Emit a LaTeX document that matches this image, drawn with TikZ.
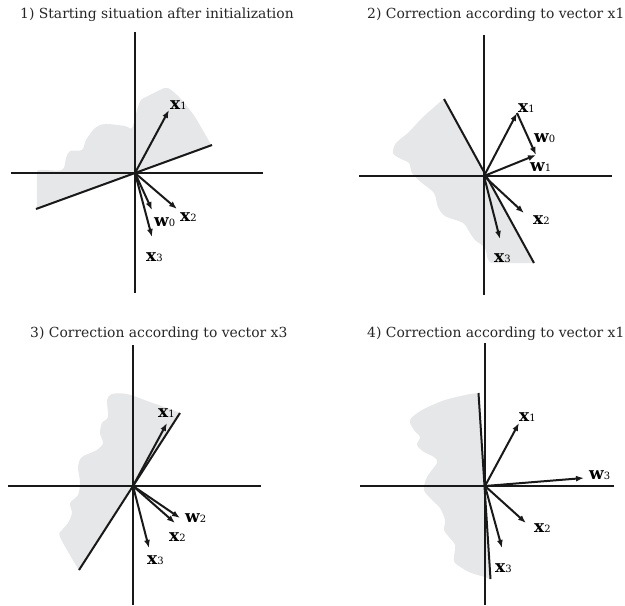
\documentclass[tikz,border=0pt]{standalone}
\usepackage{fontspec}
\setmainfont{DejaVu Serif}
\newfontfamily\labfont{DejaVu Serif}
\usetikzlibrary{arrows.meta}
\definecolor{shadegray}{HTML}{E6E7E8}
\newcommand\vlab[2]{{\labfont\fontsize{17}{17}\selectfont\bfseries #1}{\labfont\fontsize{10}{10}\selectfont #2}}
\tikzset{
  axis/.style={line width=2pt, black!90},
  sepline/.style={line width=2pt, black!90},
  vec/.style={line width=2pt, black!90, -{Latex[length=8pt,width=6pt]}},
  shadearea/.style={fill=shadegray},
  lab/.style={anchor=west, inner sep=0pt},
  ttl/.style={anchor=base west, inner sep=0pt, font=\fontsize{13.9}{13.9}\selectfont, text=black!85}
}
\begin{document}
\begin{tikzpicture}[x=1pt,y=-1pt]
\useasboundingbox (0,0) rectangle (625,606);
% ---------- Panel 1 ----------
\node[ttl] (t1) at (20,18) {1) Starting situation after initialization};
\coordinate (o1) at (135,173);
\coordinate (s1a) at (36,209);
\coordinate (s1b) at (212,145);
\fill[shadearea] (s1a) -- plot[smooth, tension=0.5] coordinates {(37,205) (37,175) (40,170) (62,170) (66,158) (70,151) (82,150) (86,140) (95,128) (105,124) (125,126) (132,128) (137,110) (141,100) (150,95) (160,90) (168,88) (180,98) (195,117) (210,143)} -- (s1b) -- cycle;
\draw[axis] (135,32) coordinate (v1a) -- (135,293) coordinate (v1b);
\draw[axis] (11,173) coordinate (h1a) -- (263,173) coordinate (h1b);
\draw[sepline] (s1a) -- (s1b);
\coordinate (p1x1) at (169,110);
\coordinate (p1x2) at (177,209);
\coordinate (p1w0) at (152,210);
\coordinate (p1x3) at (152,237);
\draw[vec] (o1) -- (p1x1);
\draw[vec] (o1) -- (p1x2);
\draw[vec] (o1) -- (p1w0);
\draw[vec] (o1) -- (p1x3);
\node[lab] (l1x1) at (170,105) {\vlab{x}{1}};
\node[lab] (l1x2) at (180,217) {\vlab{x}{2}};
\node[lab] (l1w0) at (154,222) {\vlab{w}{0}};
\node[lab] (l1x3) at (146,257) {\vlab{x}{3}};
% ---------- Panel 2 ----------
\node[ttl] (t2) at (367,18) {2) Correction according to vector x1};
\coordinate (o2) at (484,176);
\coordinate (s2a) at (444,99);
\coordinate (s2b) at (534,263);
\fill[shadearea] (s2a) -- plot[smooth, tension=0.5] coordinates {(440,102) (422,118) (409,132) (396,143) (393,153) (399,158) (409,163) (412,173) (422,183) (434,193) (438,207) (445,216) (463,223) (470,233) (475,240) (485,248) (490,262) (512,263) (530,263)} -- (s2b) -- cycle;
\draw[axis] (484,35) coordinate (v2a) -- (484,295) coordinate (v2b);
\draw[axis] (359,176) coordinate (h2a) -- (612,176) coordinate (h2b);
\draw[sepline] (s2a) -- (s2b);
\coordinate (p2x1) at (517,113);
\coordinate (p2w) at (536,155);
\coordinate (p2x2) at (524,213);
\coordinate (p2x3) at (500,239);
\draw[vec] (o2) -- (p2x1);
\draw[vec] (p2x1) -- (p2w);
\draw[vec] (o2) -- (p2w);
\draw[vec] (o2) -- (p2x2);
\draw[vec] (o2) -- (p2x3);
\node[lab] (l2x1) at (518,108) {\vlab{x}{1}};
\node[lab] (l2w0) at (534,138) {\vlab{w}{0}};
\node[lab] (l2w1) at (530,167) {\vlab{w}{1}};
\node[lab] (l2x2) at (533,220) {\vlab{x}{2}};
\node[lab] (l2x3) at (494,258) {\vlab{x}{3}};
% ---------- Panel 3 ----------
\node[ttl] (t3) at (30,337) {3) Correction according to vector x3};
\coordinate (o3) at (133,486);
\coordinate (s3a) at (79,570);
\coordinate (s3b) at (180,413);
\fill[shadearea] (s3a) -- plot[smooth, tension=0.5] coordinates {(77,567) (60,537) (62,530) (68,523) (72,513) (70,503) (78,495) (80,482) (78,467) (82,457) (97,450) (103,443) (100,433) (102,423) (108,417) (107,400) (112,394) (127,394) (150,402) (173,410)} -- (s3b) -- cycle;
\draw[axis] (133,345) coordinate (v3a) -- (133,605) coordinate (v3b);
\draw[axis] (8,486) coordinate (h3a) -- (261,486) coordinate (h3b);
\draw[sepline] (s3a) -- (s3b);
\coordinate (p3x1) at (167,423);
\coordinate (p3w2) at (180,518);
\coordinate (p3x2) at (175,523);
\coordinate (p3x3) at (149,548);
\draw[vec] (o3) -- (p3x1);
\draw[vec] (o3) -- (p3w2);
\draw[vec] (o3) -- (p3x2);
\draw[vec] (o3) -- (p3x3);
\node[lab] (l3x1) at (158,413) {\vlab{x}{1}};
\node[lab] (l3w2) at (185,518) {\vlab{w}{2}};
\node[lab] (l3x2) at (169,537) {\vlab{x}{2}};
\node[lab] (l3x3) at (147,560) {\vlab{x}{3}};
% ---------- Panel 4 ----------
\node[ttl] (t4) at (367,337) {4) Correction according to vector x1};
\coordinate (o4) at (485,486);
\coordinate (s4a) at (478.5,393);
\coordinate (s4b) at (490.5,579);
\fill[shadearea] (s4a) -- plot[smooth, tension=0.5] coordinates {(470,394) (445,400) (422,410) (410,420) (414,430) (420,437) (417,445) (424,452) (434,457) (437,463) (427,477) (424,490) (432,500) (440,508) (445,520) (444,530) (449,537) (455,545) (454,557) (455,563) (469,572) (485,577)} -- (s4b) -- cycle;
\draw[axis] (485,343) coordinate (v4a) -- (485,605) coordinate (v4b);
\draw[axis] (360,486) coordinate (h4a) -- (614,486) coordinate (h4b);
\draw[sepline] (s4a) -- (s4b);
\coordinate (p4x1) at (519,423);
\coordinate (p4w3) at (584,478);
\coordinate (p4x2) at (526,523);
\coordinate (p4x3) at (502,548);
\draw[vec] (o4) -- (p4x1);
\draw[vec] (o4) -- (p4w3);
\draw[vec] (o4) -- (p4x2);
\draw[vec] (o4) -- (p4x3);
\node[lab] (l4x1) at (519,417) {\vlab{x}{1}};
\node[lab] (l4w3) at (589,475) {\vlab{w}{3}};
\node[lab] (l4x2) at (534,528) {\vlab{x}{2}};
\node[lab] (l4x3) at (495,568) {\vlab{x}{3}};
\end{tikzpicture}
\end{document}
